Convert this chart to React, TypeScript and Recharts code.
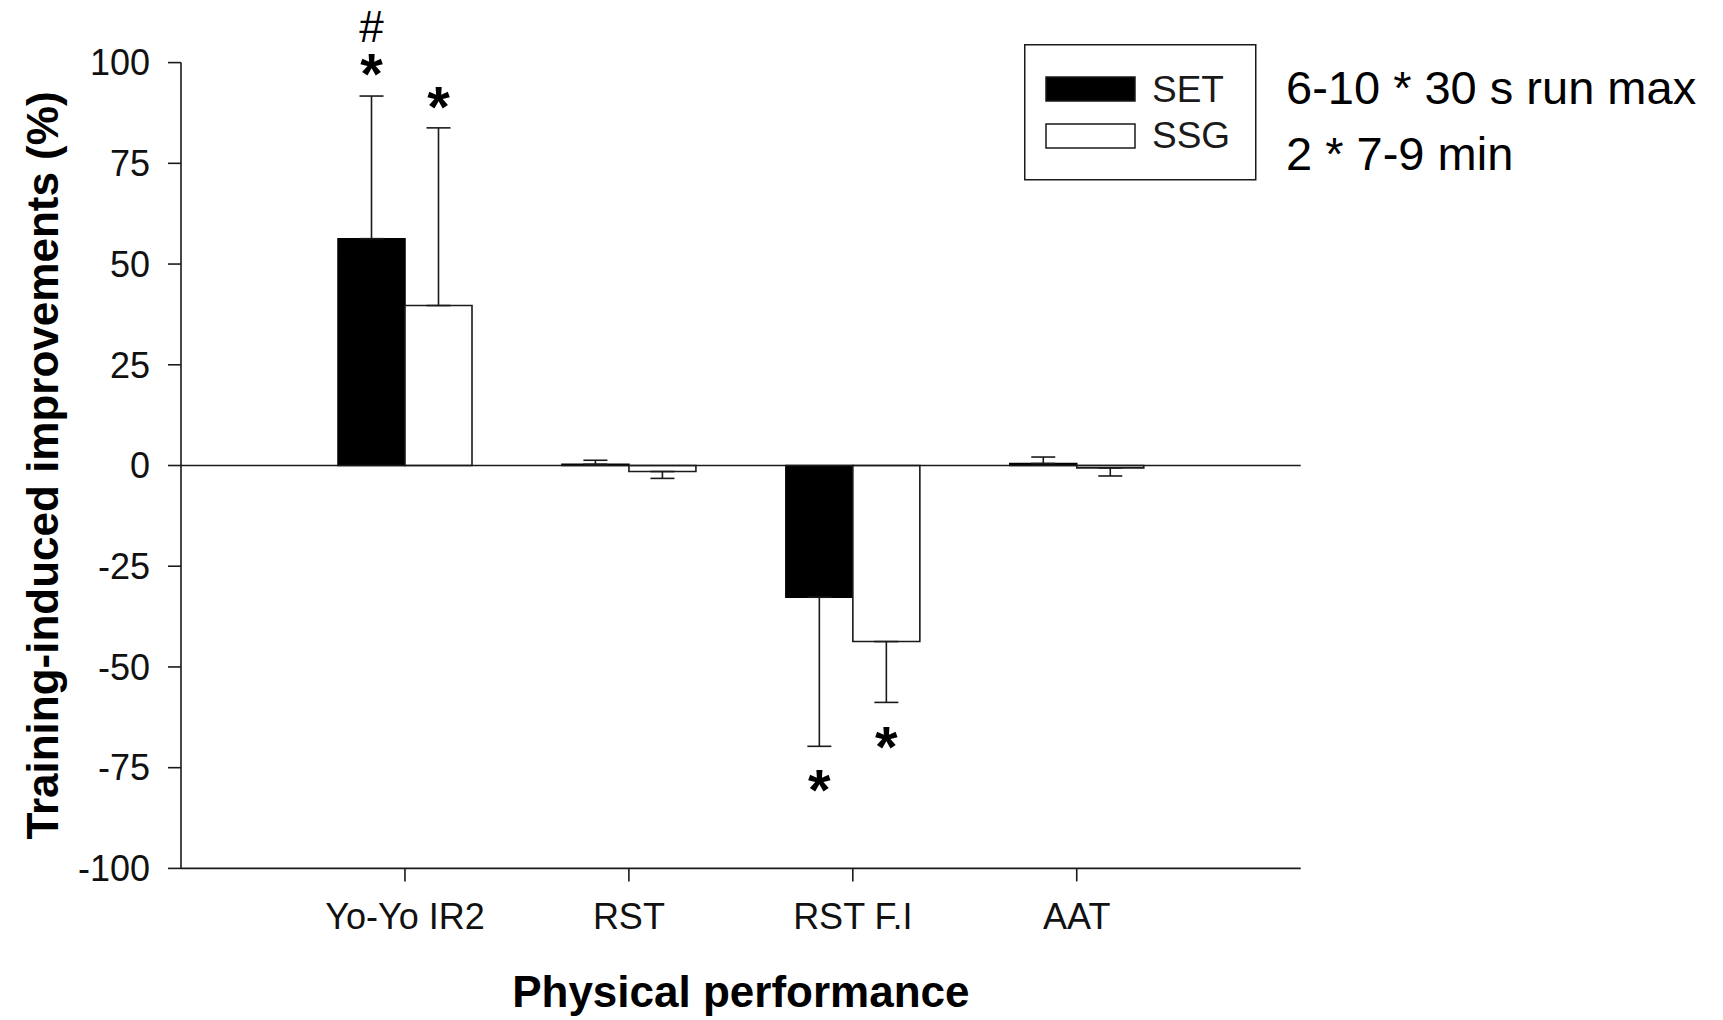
import React from "react";
import {
  Bar,
  BarChart,
  ErrorBar,
  Label,
  Legend,
  ReferenceDot,
  ReferenceLine,
  XAxis,
  YAxis,
} from "recharts";

const categories = ["Yo-Yo IR2", "RST", "RST F.I", "AAT"];
const setMeans = [56.3, 0.3, -32.7, 0.5];
const setSd = [35.4, 1.0, 37.0, 1.6];
const ssgMeans = [39.7, -1.5, -43.7, -0.6];
const ssgSd = [44.1, 1.7, 15.1, 2.0];
const yTicks = [-100, -75, -50, -25, 0, 25, 50, 75, 100];
const protocols = ["6-10 * 30 s run max", "2 * 7-9 min"];

// significance symbols drawn next to the end of the error bar
const marks = [
  { category: "Yo-Yo IR2", series: "SET", symbol: "*", gap: 29 },
  { category: "Yo-Yo IR2", series: "SET", symbol: "#", gap: 69 },
  { category: "Yo-Yo IR2", series: "SSG", symbol: "*", gap: 28 },
  { category: "RST F.I", series: "SET", symbol: "*", gap: 37 },
  { category: "RST F.I", series: "SSG", symbol: "*", gap: 38 },
];

const FONT = '"Liberation Sans", Arial, Helvetica, sans-serif';
const INK = "#1a1a1a";
const BAR_SIZE = 67;

// error bars only extend away from zero
function oneSided(mean: number, sd: number): [number, number] {
  return mean >= 0 ? [0, sd] : [sd, 0];
}

function LegendBox({ payload }: { payload?: Array<{ value: string; color?: string }> }) {
  const items = payload ?? [];
  return (
    <svg width={699} height={140} style={{ display: "block", fontFamily: FONT }}>
      <rect x={0.75} y={0.75} width={231} height={135} fill="#fff" stroke={INK} strokeWidth={1.5} />
      {items.map((item, i) => (
        <g key={item.value}>
          <rect
            x={22}
            y={33 + i * 47}
            width={89}
            height={24}
            fill={item.color}
            stroke={INK}
            strokeWidth={1.5}
          />
          <text x={128} y={57.5 + i * 46.5} fontSize={37} fill={INK}>
            {item.value}
          </text>
        </g>
      ))}
      {protocols.map((p, i) => (
        <text key={p} x={262} y={60 + i * 66} fontSize={47} fill="#000">
          {p}
        </text>
      ))}
    </svg>
  );
}

function markShape(symbol: string, series: string, above: boolean, gap: number) {
  const dx = series === "SET" ? -BAR_SIZE / 2 : BAR_SIZE / 2;
  const star = symbol === "*";
  const size = star ? 58 : 44;
  // glyph centre above baseline, in em
  const mid = star ? 0.46 : 0.33;
  return (props: { cx?: number; cy?: number }) => {
    const cx = (props.cx ?? 0) + dx;
    const cy = (props.cy ?? 0) + (above ? -gap : gap);
    return (
      <text
        x={cx}
        y={cy + mid * size}
        textAnchor="middle"
        fontSize={size}
        fontWeight={star ? 700 : 400}
        fontFamily={FONT}
        fill="#000"
      >
        {symbol}
      </text>
    );
  };
}

export default function App() {
  const data = categories.map((category, i) => ({
    category,
    SET: setMeans[i],
    SSG: ssgMeans[i],
    setErr: oneSided(setMeans[i], setSd[i]),
    ssgErr: oneSided(ssgMeans[i], ssgSd[i]),
  }));

  const tickStyle = { fill: "#111", fontSize: 36, fontFamily: FONT };

  return (
    <div style={{ position: "absolute", left: 0, top: 0, width: 1723, height: 1020, background: "#fff" }}>
      <BarChart
        width={1723}
        height={1020}
        data={data}
        margin={{ top: 62.6, right: 422.3, bottom: 0, left: 0 }}
        barSize={BAR_SIZE}
        barGap={0}
      >
        <XAxis
          dataKey="category"
          interval={0}
          height={151.6}
          padding={{ left: 112, right: 112 }}
          axisLine={{ stroke: INK, strokeWidth: 1.6 }}
          tickLine={{ stroke: INK, strokeWidth: 1.6 }}
          tickSize={13}
          tickMargin={22}
          tick={tickStyle}
        >
          <Label
            content={(props: any) => {
              const vb = props.viewBox ?? { x: 181, width: 1119 };
              return (
                <text
                  x={vb.x + vb.width / 2}
                  y={1007}
                  textAnchor="middle"
                  fontSize={44}
                  fontWeight={700}
                  fontFamily={FONT}
                  fill="#000"
                >
                  Physical performance
                </text>
              );
            }}
          />
        </XAxis>
        <YAxis
          width={181}
          domain={[-100, 100]}
          ticks={yTicks}
          interval={0}
          allowDataOverflow
          axisLine={{ stroke: INK, strokeWidth: 1.6 }}
          tickLine={{ stroke: INK, strokeWidth: 1.6 }}
          tickSize={13}
          tickMargin={18}
          tick={tickStyle}
        >
          <Label
            content={(props: any) => {
              const vb = props.viewBox ?? { x: 0, y: 62.6, height: 805.8 };
              const cx = vb.x + 42;
              const cy = vb.y + vb.height / 2;
              return (
                <text
                  x={cx}
                  y={cy}
                  transform={`rotate(-90 ${cx} ${cy})`}
                  textAnchor="middle"
                  dominantBaseline="central"
                  fontSize={44}
                  fontWeight={700}
                  fontFamily={FONT}
                  fill="#000"
                >
                  Training-induced improvements (%)
                </text>
              );
            }}
          />
        </YAxis>
        <Legend
          layout="horizontal"
          verticalAlign="middle"
          align="center"
          content={<LegendBox />}
          wrapperStyle={{ position: "absolute", left: 1024, top: 44, width: 699, height: 140 }}
        />
        <Bar dataKey="SET" name="SET" fill="#000" stroke="#000" strokeWidth={1.5} isAnimationActive={false}>
          <ErrorBar dataKey="setErr" width={12} stroke={INK} strokeWidth={1.6} direction="y" />
        </Bar>
        <Bar dataKey="SSG" name="SSG" fill="#fff" stroke={INK} strokeWidth={1.6} isAnimationActive={false}>
          <ErrorBar dataKey="ssgErr" width={12} stroke={INK} strokeWidth={1.6} direction="y" />
        </Bar>
        <ReferenceLine y={0} stroke={INK} strokeWidth={1.6} />
        {marks.map((m, i) => {
          const idx = categories.indexOf(m.category);
          const mean = m.series === "SET" ? setMeans[idx] : ssgMeans[idx];
          const sd = m.series === "SET" ? setSd[idx] : ssgSd[idx];
          const end = mean >= 0 ? mean + sd : mean - sd;
          return (
            <ReferenceDot
              key={i}
              x={m.category}
              y={end}
              r={0}
              ifOverflow="visible"
              shape={markShape(m.symbol, m.series, mean >= 0, m.gap)}
            />
          );
        })}
      </BarChart>
    </div>
  );
}
